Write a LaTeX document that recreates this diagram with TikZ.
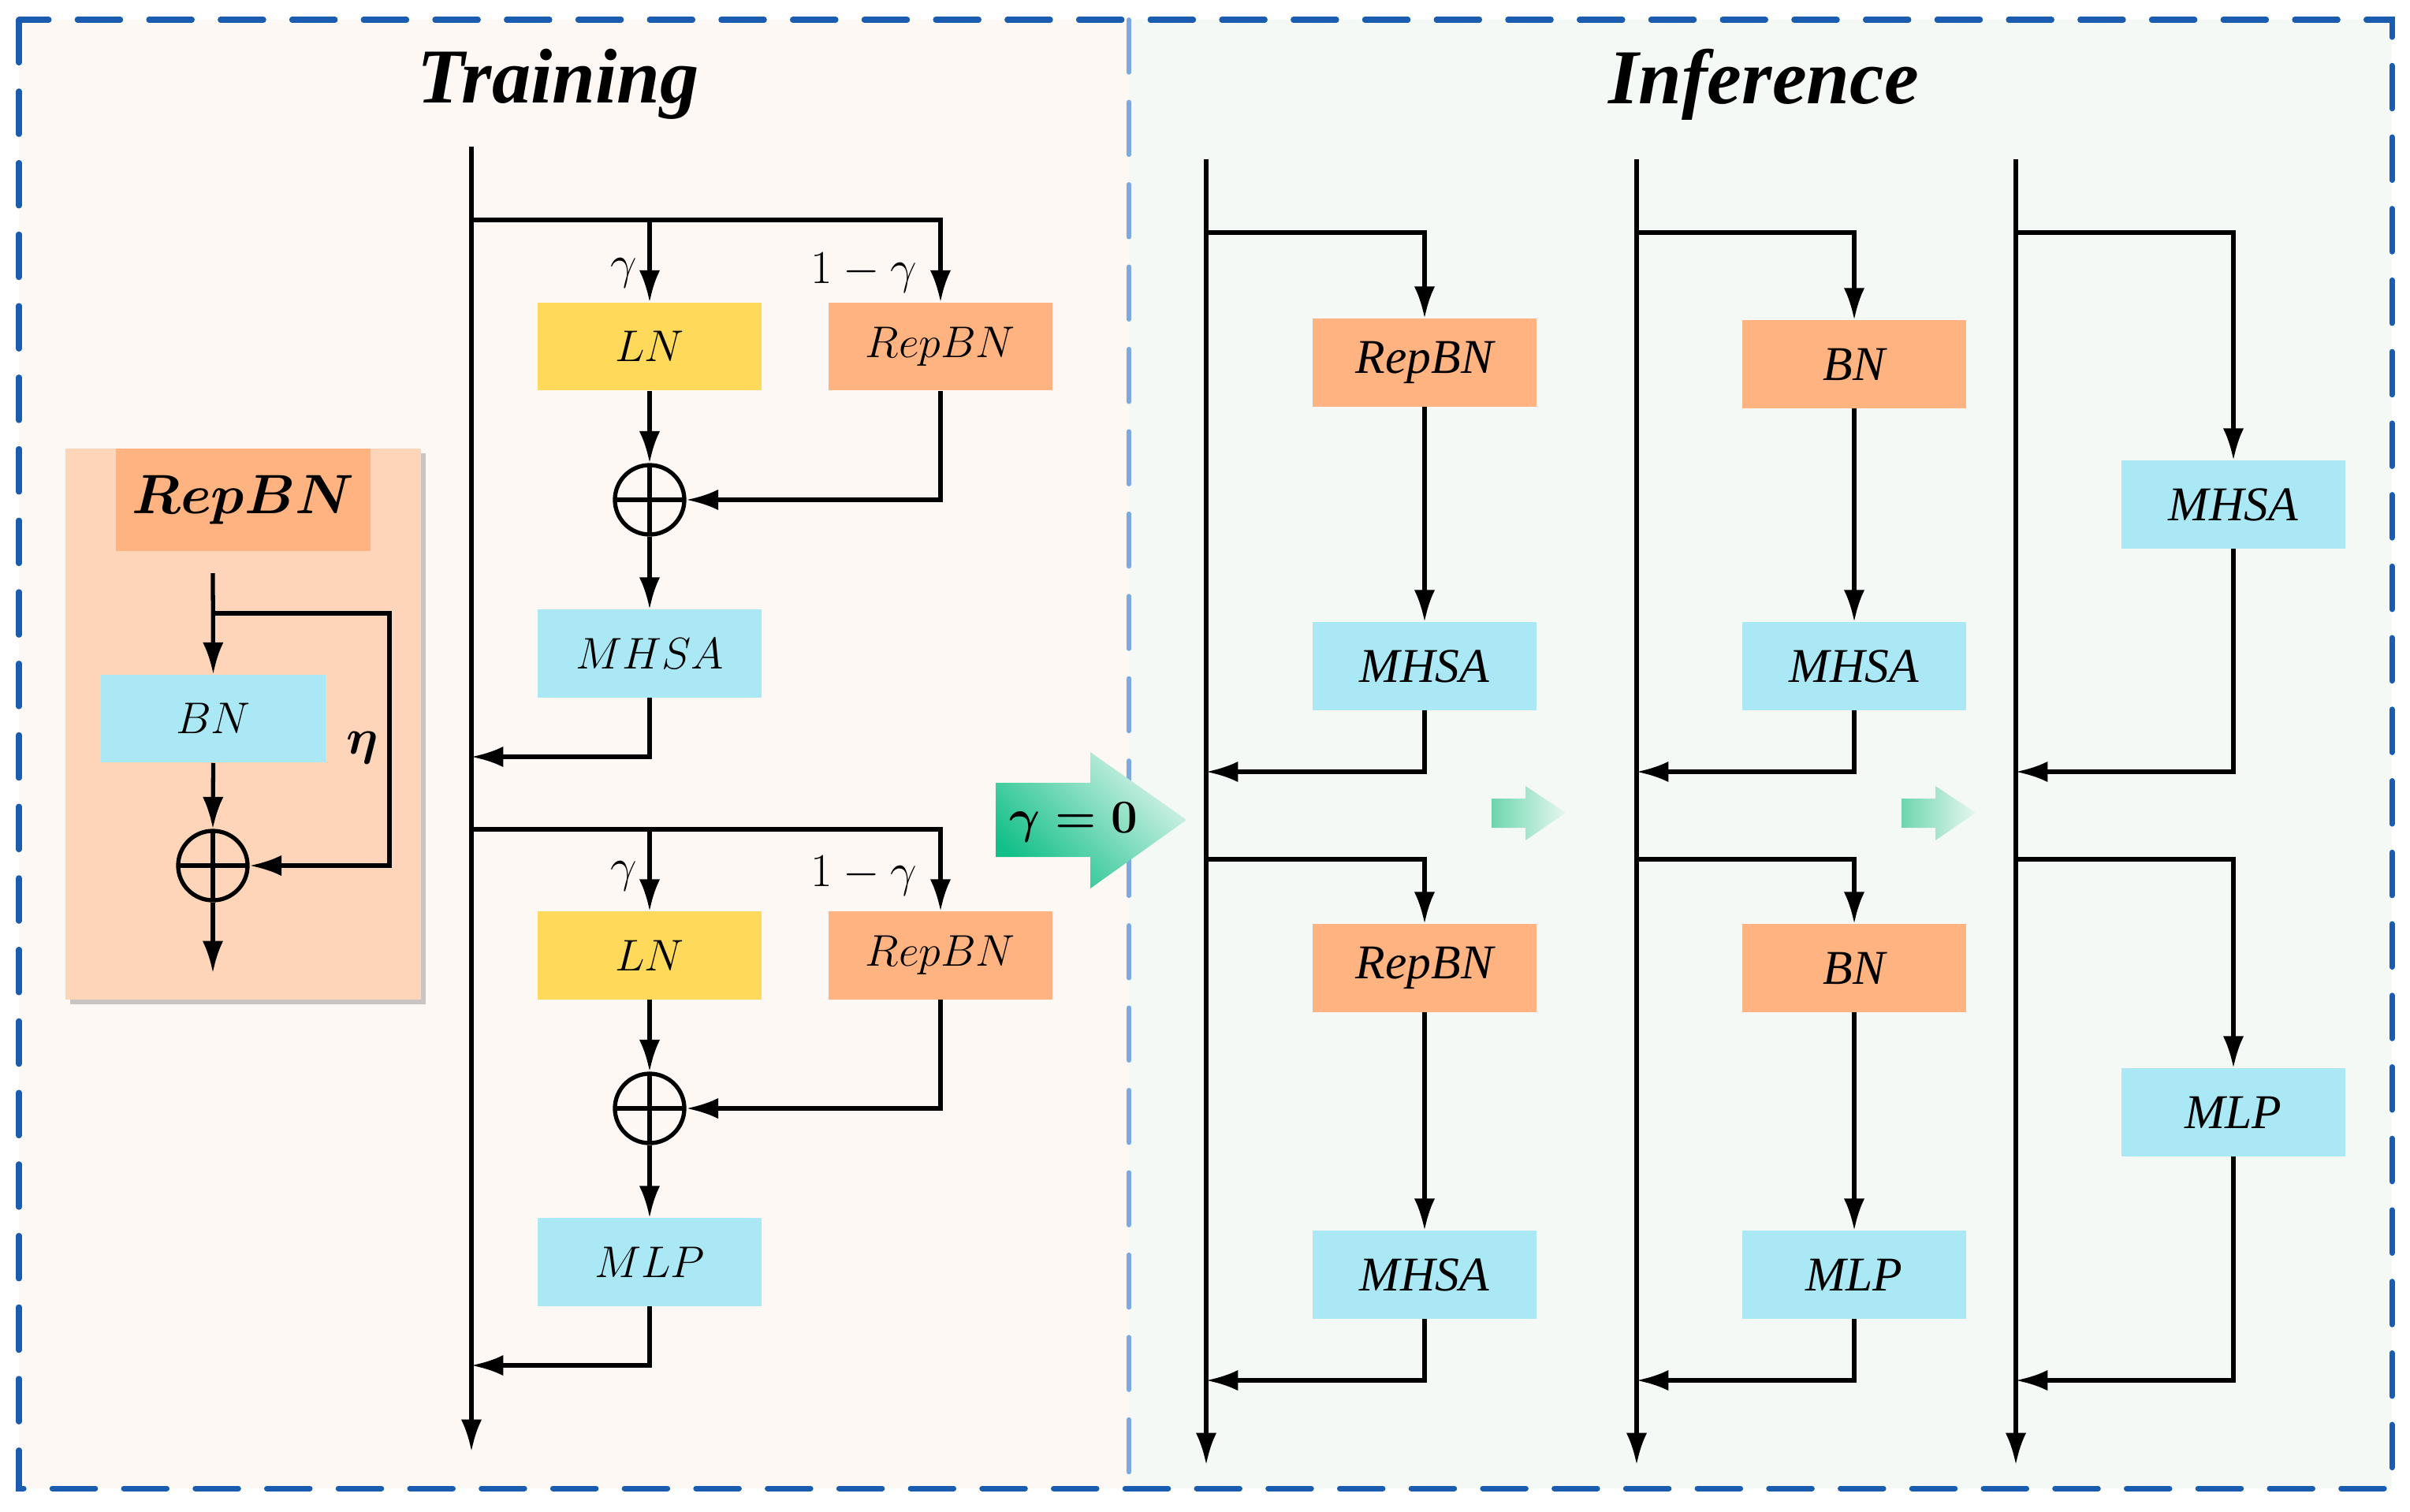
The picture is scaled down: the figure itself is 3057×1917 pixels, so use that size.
\documentclass[tikz,border=0pt]{standalone}
\usepackage{fix-cm}
\usepackage{fontspec}
\setmainfont{Liberation Serif}
\usetikzlibrary{arrows.meta,shadows}

\definecolor{trainbg}{HTML}{FDF8F4}
\definecolor{inferbg}{HTML}{F5F9F6}
\definecolor{boxorange}{HTML}{FFB380}
\definecolor{boxblue}{HTML}{A9E8F4}
\definecolor{boxyellow}{HTML}{FFD95A}
\definecolor{insetbg}{HTML}{FFD5B9}
\definecolor{borderblue}{HTML}{1A5CB0}
\definecolor{dividerblue}{HTML}{7DA9E2}
\definecolor{greendark}{HTML}{12BF88}
\definecolor{greenlight}{HTML}{D8F3EA}
\definecolor{greenmid}{HTML}{6ED6AE}
\definecolor{greenpale}{HTML}{E6F7F0}

\begin{document}
\begin{tikzpicture}[x=0.01cm, y=-0.01cm, >={Latex[length=11.5pt,width=7.5pt]},
  line/.style={line width=1.5pt},
  box/.style={minimum width=2.84cm, minimum height=1.11cm, inner sep=0pt},
  orangebox/.style={box, fill=boxorange},
  bluebox/.style={box, fill=boxblue},
  yellowbox/.style={box, fill=boxyellow},
  trainlabel/.style={font=\fontsize{16}{19}\selectfont},
  gammalabel/.style={font=\fontsize{17}{20}\selectfont},
  inferlabel/.style={font=\fontsize{17.5}{20}\selectfont\itshape},
  title/.style={font=\fontsize{28}{32}\selectfont\bfseries\itshape},
  oplus/.style={circle, draw, line width=1.5pt, minimum size=0.88cm, inner sep=0pt,
    path picture={\draw[line width=1.5pt] (path picture bounding box.north) -- (path picture bounding box.south)
      (path picture bounding box.west) -- (path picture bounding box.east);}},
  border/.style={draw=borderblue, line width=2pt, line cap=round, dash pattern=on 15.5pt off 10.3pt},
  divider/.style={draw=dividerblue, line width=1.6pt, line cap=round, dash pattern=on 19pt off 10.7pt}]
\useasboundingbox (0,0) rectangle (3057,1917);
% backgrounds
\fill[trainbg] (24,25) rectangle (1432,1888);
\fill[inferbg] (1432,25) rectangle (3034,1888);
\draw[divider] (1432,25) -- (1432,1888);
\draw[border] (24,25) rectangle (3034,1888);
\node[title] (TT) at (708,107) {Training};
\node[title] (TI) at (2237,107) {Inference};

% RepBN inset
\node[fill=insetbg, minimum width=4.51cm, minimum height=6.99cm, inner sep=0pt,
  drop shadow={shadow xshift=0.6mm, shadow yshift=-0.6mm, fill=black!60, opacity=0.35}] (I) at (308.5,918.5) {};
\node[fill=boxorange, minimum width=3.23cm, minimum height=1.30cm, inner sep=0pt,
  font=\fontsize{20}{24}\selectfont\boldmath] (IT) at (308.5,634) {$RepBN$};
\node[bluebox, trainlabel] (IB) at (270.5,911.5) {$BN$};
\node[oplus] (IP) at (270,1098) {};
\coordinate (I0) at (270,727);
\coordinate (IJ) at (270,778);
\coordinate (IK) at (494,778);
\coordinate (I9) at (270,1234);
\draw [line,->] (I0) -- (IB.north) ;
\draw [line,->] (IJ) -- (IK) |- (IP.east) ;
\draw [line,->] (IB.south) -- (IP.north) ;
\draw [line,->] (IP.south) -- (I9) ;
\node[font=\fontsize{18}{20}\selectfont\boldmath] (eta) at (460,949) {$\eta$};

% training block
\coordinate (T0) at (598,186);
\coordinate (T1) at (598,279);
\coordinate (R1) at (598,960);
\coordinate (T2) at (598,1052);
\coordinate (R2) at (598,1732);
\coordinate (T9) at (598,1841);
\node[yellowbox, trainlabel] (LN1) at (824,439.5) {$LN$};
\node[orangebox, trainlabel] (RB1) at (1193,439.5) {$RepBN$};
\node[oplus] (P1) at (824,634) {};
\node[bluebox, trainlabel] (MH1) at (824,829) {$MHSA$};
\node[yellowbox, trainlabel] (LN2) at (824,1212) {$LN$};
\node[orangebox, trainlabel] (RB2) at (1193,1212) {$RepBN$};
\node[oplus] (P2) at (824,1406) {};
\node[bluebox, trainlabel] (ML2) at (824,1601) {$MLP$};
\node[gammalabel] (g1) at (791,346) {$\gamma$};
\node[gammalabel] (h1) at (1096,346) {$1-\gamma$};
\node[gammalabel] (g2) at (791,1111) {$\gamma$};
\node[gammalabel] (h2) at (1096,1111) {$1-\gamma$};
\draw [line,->] (T0) -- (T9) ;
\draw [line,->] (T1) -| (RB1.north) ;
\draw [line,->] (T1 -| LN1) -- (LN1.north) ;
\draw [line,->] (LN1.south) -- (P1.north) ;
\draw [line,->] (RB1.south) |- (P1.east) ;
\draw [line,->] (P1.south) -- (MH1.north) ;
\draw [line,->] (MH1.south) |- (R1) ;
\draw [line,->] (T2) -| (RB2.north) ;
\draw [line,->] (T2 -| LN2) -- (LN2.north) ;
\draw [line,->] (LN2.south) -- (P2.north) ;
\draw [line,->] (RB2.south) |- (P2.east) ;
\draw [line,->] (P2.south) -- (ML2.north) ;
\draw [line,->] (ML2.south) |- (R2) ;

% gamma = 0 arrow
\shade[top color=greenlight, bottom color=greendark, shading angle=-45]
  (1263,993) -- (1383,993) -- (1383,954) -- (1505,1040) -- (1383,1127) -- (1383,1087) -- (1263,1087) -- cycle;
\node[font=\fontsize{17}{20}\selectfont\boldmath] (G0) at (1362,1043) {$\gamma = 0$};
\shade[left color=greenmid, right color=greenpale]
  (1892,1013) -- (1935,1013) -- (1935,997) -- (1986,1031) -- (1935,1066) -- (1935,1050) -- (1892,1050) -- cycle;
\shade[left color=greenmid, right color=greenpale]
  (2412,1013) -- (2455,1013) -- (2455,997) -- (2506,1031) -- (2455,1066) -- (2455,1050) -- (2412,1050) -- cycle;

% inference: RepBN
\coordinate (A0) at (1530,202);
\coordinate (A1) at (1530,295);
\coordinate (AR1) at (1530,979);
\coordinate (A2) at (1530,1090);
\coordinate (AR2) at (1530,1751);
\coordinate (A9) at (1530,1858);
\node[orangebox, inferlabel] (RBa1) at (1807,460) {RepBN};
\node[bluebox, inferlabel] (MHa1) at (1807,845) {MHSA};
\node[orangebox, inferlabel] (RBa2) at (1807,1228) {RepBN};
\node[bluebox, inferlabel] (MHa2) at (1807,1617) {MHSA};
\draw [line,->] (A0) -- (A9) ;
\draw [line,->] (A1) -| (RBa1.north) ;
\draw [line,->] (RBa1) -- (MHa1) ;
\draw [line,->] (MHa1.south) |- (AR1) ;
\draw [line,->] (A2) -| (RBa2.north) ;
\draw [line,->] (RBa2) -- (MHa2) ;
\draw [line,->] (MHa2.south) |- (AR2) ;

% inference: BN
\coordinate (B0) at (2076,202);
\coordinate (B1) at (2076,295);
\coordinate (BR1) at (2076,979);
\coordinate (B2) at (2076,1090);
\coordinate (BR2) at (2076,1751);
\coordinate (B9) at (2076,1858);
\node[orangebox, inferlabel] (BNb1) at (2352,462) {BN};
\node[bluebox, inferlabel] (MHb1) at (2352,845) {MHSA};
\node[orangebox, inferlabel] (BNb2) at (2352,1228) {BN};
\node[bluebox, inferlabel] (MLb2) at (2352,1617) {MLP};
\draw [line,->] (B0) -- (B9) ;
\draw [line,->] (B1) -| (BNb1.north) ;
\draw [line,->] (BNb1) -- (MHb1) ;
\draw [line,->] (MHb1.south) |- (BR1) ;
\draw [line,->] (B2) -| (BNb2.north) ;
\draw [line,->] (BNb2) -- (MLb2) ;
\draw [line,->] (MLb2.south) |- (BR2) ;

% inference: merged
\coordinate (C0) at (2557,202);
\coordinate (C1) at (2557,295);
\coordinate (CR1) at (2557,979);
\coordinate (C2) at (2557,1090);
\coordinate (CR2) at (2557,1751);
\coordinate (C9) at (2557,1858);
\node[bluebox, inferlabel] (MHc1) at (2833,640) {MHSA};
\node[bluebox, inferlabel] (MLc2) at (2833,1411) {MLP};
\draw [line,->] (C0) -- (C9) ;
\draw [line,->] (C1) -| (MHc1.north) ;
\draw [line,->] (MHc1.south) |- (CR1) ;
\draw [line,->] (C2) -| (MLc2.north) ;
\draw [line,->] (MLc2.south) |- (CR2) ;
\end{tikzpicture}
\end{document}
